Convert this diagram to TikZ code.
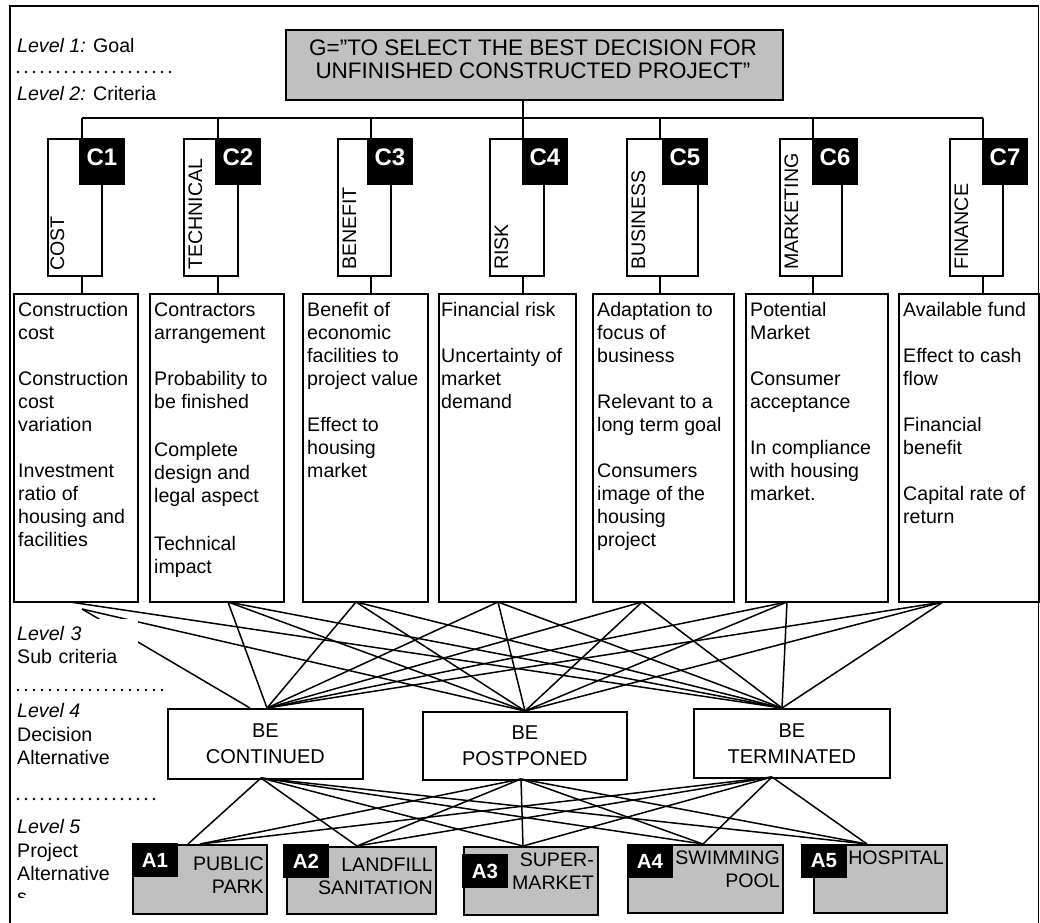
\documentclass[tikz,border=0pt]{standalone}
\usepackage{fontspec}
\setmainfont{Liberation Sans}
\usetikzlibrary{calc}
\definecolor{altgray}{HTML}{C0C0C0}
\newcommand\nf{\fontsize{19.6}{23}\selectfont}
\newcommand\gf{\fontsize{22.5}{23}\selectfont}
\newcommand\df{\fontsize{20}{26}\selectfont}
\newcommand\cf{\fontsize{24}{26}\selectfont\bfseries}
\newcommand\af{\fontsize{20.5}{22}\selectfont\bfseries}
\newcommand\st{\rule{0pt}{16pt}}
\begin{document}
\begin{tikzpicture}[x=1pt,y=-1pt,
  bx/.style={draw,line width=1.7pt,inner sep=0pt,anchor=north west},
  gbx/.style={bx,fill=altgray},
  blk/.style={fill=black,inner sep=0pt,anchor=north west},
  tx/.style={inner sep=0pt,anchor=north west,align=left,font=\nf},
  con/.style={line width=1.5pt},
  dots/.style={line width=2.8pt,line cap=round,dash pattern=on 0pt off 8pt},
  vlab/.style={rotate=90,anchor=base west,inner sep=0pt,font=\nf},
  clab/.style={text=white,font=\cf,inner sep=0pt},
  alab/.style={text=white,font=\af,inner sep=0pt},
  lvl/.style={anchor=base west,inner sep=0pt,font=\nf},
  atx/.style={anchor=north east,align=right,inner sep=0pt,font=\nf}]
\useasboundingbox (0,0) rectangle (1040,922);
% frame
\draw[line width=1.7pt] (10,940) -- (10,6) -- (1038.5,6) -- (1038.5,940);
% goal
\node[gbx,minimum width=497pt,minimum height=70pt] (goal) at (285,29) {};
\node[font=\gf,align=center,inner sep=0pt,anchor=north] (goaltext) at (533,37)
  {\rule{0pt}{18pt}G=”TO SELECT THE BEST DECISION FOR\\UNFINISHED CONSTRUCTED PROJECT”};
% criteria rectangles
\node[bx,minimum width=54pt,minimum height=137pt] (c1) at (47,138) {};
\node[bx,minimum width=54pt,minimum height=137pt] (c2) at (183,138) {};
\node[bx,minimum width=53pt,minimum height=137pt] (c3) at (337,138) {};
\node[bx,minimum width=54pt,minimum height=137pt] (c4) at (489,138) {};
\node[bx,minimum width=71pt,minimum height=137pt] (c5) at (626,138) {};
\node[bx,minimum width=62pt,minimum height=137pt] (c6) at (779,138) {};
\node[bx,minimum width=53pt,minimum height=137pt] (c7) at (949,138) {};
\node[vlab] (v1) at (64,271) {COST};
\node[vlab] (v2) at (202,270) {TECHNICAL};
\node[vlab] (v3) at (356,270) {BENEFIT};
\node[vlab] (v4) at (508,270) {RISK};
\node[vlab] (v5) at (645,270) {BUSINESS};
\node[vlab] (v6) at (798,270) {MARKETING};
\node[vlab] (v7) at (968,270) {FINANCE};
\foreach \i/\x in {1/79,2/215,3/367,4/522,5/662,6/812,7/982}{
  \node[blk,minimum width=46pt,minimum height=47pt] (cb\i) at (\x,138) {};
  \node[clab] (cl\i) at (\x+23,157) {C\i};
}
% bus
\foreach \i/\x in {1/82,2/218,3/371,4/523,5/660,6/813,7/983}{
  \coordinate (b\i) at (\x,118);
}
% sub-criteria boxes
\node[bx,minimum width=124pt,minimum height=308pt] (s1) at (13,293) {};
\node[bx,minimum width=134pt,minimum height=308pt] (s2) at (149,293) {};
\node[bx,minimum width=125pt,minimum height=308pt] (s3) at (302,293) {};
\node[bx,minimum width=137pt,minimum height=308pt] (s4) at (438,293) {};
\node[bx,minimum width=141pt,minimum height=308pt] (s5) at (592,293) {};
\node[bx,minimum width=142pt,minimum height=308pt] (s6) at (745,293) {};
\node[bx,minimum width=140pt,minimum height=308pt] (s7) at (898,293) {};
\node[tx] (t1) at (18,300) {\st Construction\\cost\\[23pt]Construction\\cost\\variation\\[23pt]Investment\\ratio of\\housing and\\facilities};
\node[tx] (t2) at (154,300) {\st Contractors\\arrangement\\[23pt]Probability to\\be finished\\[25pt]Complete\\design and\\legal aspect\\[25pt]Technical\\impact};
\node[tx] (t3) at (307,300) {\st Benefit of\\economic\\facilities to\\project value\\[23pt]Effect to\\housing\\market};
\node[tx] (t4) at (441,300) {\st Financial risk\\[23pt]Uncertainty of\\market\\demand};
\node[tx] (t5) at (597,300) {\st Adaptation to\\focus of\\business\\[23pt]Relevant to a\\long term goal\\[23pt]Consumers\\image of the\\housing\\project};
\node[tx] (t6) at (750,300) {\st Potential\\Market\\[23pt]Consumer\\acceptance\\[23pt]In compliance\\with housing\\market.};
\node[tx] (t7) at (903,300) {\st Available fund\\[23pt]Effect to cash\\flow\\[23pt]Financial\\benefit\\[23pt]Capital rate of\\return};
% tree lines goal -> criteria -> sub criteria
\draw[con] (b1) -- (b7);
\draw[con] (b4 |- goal.south) -- (b4 |- c4.north);
\foreach \i in {1,2,3,5,6,7}{\draw[con] (b\i) -- (b\i |- c\i.north);}
\foreach \i in {1,...,7}{\draw[con] (b\i |- c\i.south) -- (b\i |- s\i.north);}
% decision boxes
\node[bx,minimum width=195pt,minimum height=70pt,font=\df,align=center] (d1) at (167,708) {BE\\CONTINUED};
\node[bx,minimum width=204pt,minimum height=68pt,font=\df,align=center] (d2) at (422,711) {BE\\POSTPONED};
\node[bx,minimum width=196pt,minimum height=69pt,font=\df,align=center] (d3) at (693,708) {BE\\TERMINATED};
% alternatives
\node[gbx,minimum width=134pt,minimum height=69pt] (a1) at (132,844) {};
\node[gbx,minimum width=149pt,minimum height=67pt] (a2) at (286,846) {};
\node[gbx,minimum width=134pt,minimum height=68pt] (a3) at (463,846) {};
\node[gbx,minimum width=155pt,minimum height=68pt] (a4) at (627,844) {};
\node[gbx,minimum width=133pt,minimum height=68pt] (a5) at (813,844) {};
\node[atx] (n1) at (264,854) {\st PUBLIC\\PARK};
\node[atx] (n2) at (433,855) {\st LANDFILL\\SANITATION};
\node[atx] (n3) at (594,850) {\st SUPER-\\MARKET};
\node[atx] (n4) at (780,848) {\st SWIMMING\\POOL};
\node[atx] (n5) at (944,848) {\st HOSPITAL};
\foreach \i/\x/\y in {1/132/843,2/283/844,3/462/854,4/627/844,5/801/844}{
  \node[blk,minimum width=46pt,minimum height=34pt] (ab\i) at (\x,\y) {};
  \node[alab] (al\i) at (\x+23,\y+17) {A\i};
}
% connection points
\coordinate (sb1a) at (82,609);
\coordinate (sb1b) at (70,602);
\coordinate (sb2) at (228,602);
\coordinate (sb3) at (356,602);
\coordinate (sb4) at (498,602);
\coordinate (sb5) at (642,602);
\coordinate (sb6) at (787,602);
\coordinate (sb7) at (943,602);
\coordinate (dt1) at (267,708);
\coordinate (dt1b) at (250,708);
\coordinate (dt2) at (525,711);
\coordinate (dt3) at (782,708);
\coordinate (db1) at (261,778);
\coordinate (db2) at (521,779);
\coordinate (db3) at (772,777);
\coordinate (at1) at (200,844);
\coordinate (at1b) at (188,844);
\coordinate (at2) at (357,846);
\coordinate (at3) at (523,846);
\coordinate (at4) at (703,844);
\coordinate (at5) at (867,844);
% sub criteria -> decisions
\draw[con] (sb1a) -- (dt1b);
\draw[con] (sb1a) -- (dt2);
\draw[con] (sb1b) -- (dt3);
\foreach \s in {2,...,7}{
  \draw[con] (sb\s) -- (dt1);
  \draw[con] (sb\s) -- (dt2);
  \draw[con] (sb\s) -- (dt3);
}
% decisions -> alternatives
\draw[con] (db1) -- (at1b);
\foreach \a in {2,...,5}{\draw[con] (db1) -- (at\a);}
\foreach \a in {1,...,5}{
  \draw[con] (db2) -- (at\a);
  \draw[con] (db3) -- (at\a);
}
% level labels
\node[lvl] (l1) at (17,52) {\textit{Level 1:} Goal};
\draw[dots] (18,72) -- (176,72);
\node[lvl] (l2) at (17,100) {\textit{Level 2:} Criteria};
\node[fill=white,inner xsep=6pt,inner ysep=5pt,anchor=north west,align=left,font=\nf,text width=115pt] (l3) at (11,619) {\st\textit{Level 3}\\Sub criteria};
\draw[dots] (18,690) -- (166,690);
\node[lvl] (l4a) at (17,717) {\textit{Level 4}};
\node[lvl] (l4b) at (17,741) {Decision};
\node[lvl] (l4c) at (17,764) {Alternative};
\draw[dots] (18,799) -- (158,799);
\node[lvl] (l5a) at (17,833) {\textit{Level 5}};
\node[lvl] (l5b) at (17,857) {Project};
\node[lvl] (l5c) at (17,880) {Alternative};
\begin{scope}
\clip (11,889) rectangle (60,897);
\node[lvl] (l5d) at (17,903) {s};
\end{scope}
\end{tikzpicture}
\end{document}
